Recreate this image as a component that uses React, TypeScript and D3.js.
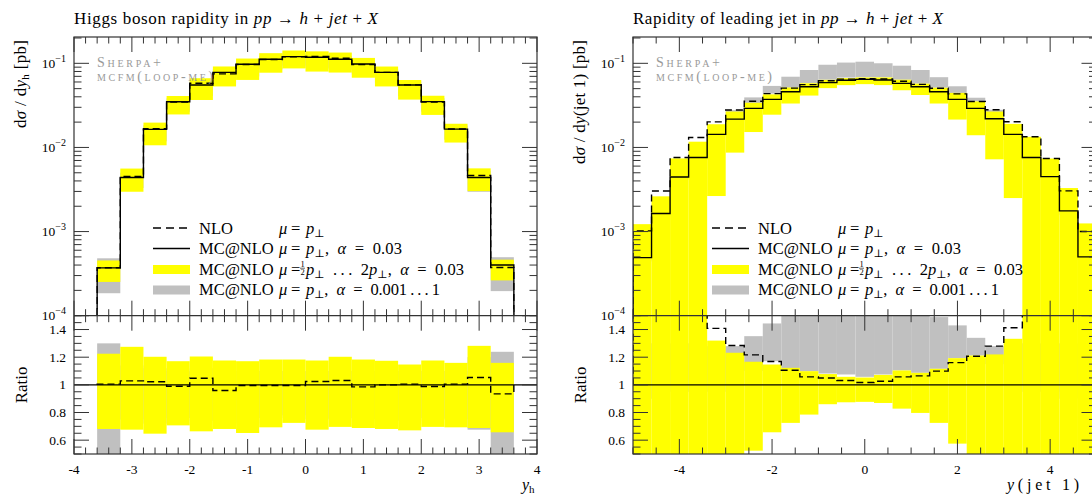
import React from 'react';
import * as d3 from 'd3';

// ---- Higgs boson rapidity (left panel), 0.4 wide bins ----
const higgsEdges = [-3.6, -3.2, -2.8, -2.4, -2.0, -1.6, -1.2, -0.8, -0.4, 0, 0.4, 0.8, 1.2, 1.6, 2.0, 2.4, 2.8, 3.2, 3.6];
// MC@NLO mu=pT, alpha=0.03 [pb]
const higgsMcnlo = [3.7e-4, 4.4e-3, 0.0164, 0.0349, 0.0552, 0.078, 0.0973, 0.1116, 0.12, 0.118, 0.1116, 0.098, 0.078, 0.0552, 0.035, 0.0165, 4.4e-3, 4.0e-4];
// NLO / MC@NLO
const higgsNloRatio = [1.005, 1.029, 1.022, 0.99, 1.048, 0.959, 0.995, 0.995, 0.995, 1.024, 1.031, 0.985, 1.0, 1.005, 0.988, 1.005, 1.053, 0.935];
// scale variation band (ratio to MC@NLO)
const higgsScaleHi = [1.225, 1.275, 1.203, 1.171, 1.205, 1.176, 1.171, 1.183, 1.183, 1.176, 1.203, 1.183, 1.174, 1.147, 1.176, 1.159, 1.282, 1.159];
const higgsScaleLo = [0.681, 0.676, 0.647, 0.707, 0.664, 0.681, 0.652, 0.693, 0.725, 0.676, 0.696, 0.688, 0.681, 0.671, 0.696, 0.693, 0.688, 0.657];
// alpha variation band (ratio to MC@NLO)
const higgsAlphaHi = [1.3, 1.14, 1.12, 1.1, 1.12, 1.1, 1.1, 1.1, 1.1, 1.1, 1.1, 1.1, 1.1, 1.1, 1.1, 1.1, 1.2, 1.239];
const higgsAlphaLo = [0.5, 0.75, 0.72, 0.76, 0.74, 0.75, 0.72, 0.76, 0.78, 0.75, 0.76, 0.75, 0.75, 0.74, 0.76, 0.75, 0.676, 0.49];

// ---- leading jet rapidity (right panel) ----
const jetEdges = [-5.0, -4.6, -4.2, -3.8, -3.4, -3.0, -2.6, -2.2, -1.8, -1.4, -1.0, -0.6, -0.2, 0.2, 0.6, 1.0, 1.4, 1.8, 2.2, 2.6, 3.0, 3.4, 3.8, 4.2, 4.6, 5.0];
const jetMcnlo = [4.9e-4, 1.64e-3, 4.46e-3, 7.6e-3, 0.0143, 0.0217, 0.0291, 0.0373, 0.0459, 0.0527, 0.059, 0.063, 0.0645, 0.0634, 0.0578, 0.0527, 0.0459, 0.0373, 0.0291, 0.0219, 0.0143, 7.6e-3, 4.5e-3, 1.76e-3, 5.0e-4];
const jetNloRatio = [2.08, 1.85, 1.7, 1.73, 1.408, 1.285, 1.217, 1.169, 1.106, 1.058, 1.05, 1.031, 1.017, 1.026, 1.058, 1.065, 1.099, 1.161, 1.207, 1.28, 1.413, 1.76, 1.64, 1.73, 2.0];
const jetScaleHi = [2.5, 1.6, 1.66, 1.54, 1.32, 1.232, 1.167, 1.147, 1.123, 1.099, 1.078, 1.058, 1.053, 1.072, 1.104, 1.087, 1.116, 1.193, 1.212, 1.22, 1.333, 1.76, 1.64, 1.87, 2.5];
const jetScaleLo = [0.01, 0.01, 0.01, 0.01, 0.185, 0.4, 0.524, 0.657, 0.725, 0.785, 0.86, 0.874, 0.877, 0.869, 0.828, 0.797, 0.725, 0.575, 0.48, 0.33, 0.175, 0.01, 0.01, 0.01, 0.01];
const jetAlphaHi = [1.3, 1.3, 1.3, 1.3, 1.28, 1.28, 1.352, 1.444, 1.51, 1.58, 1.63, 1.62, 1.62, 1.58, 1.62, 1.58, 1.49, 1.43, 1.34, 1.28, 1.3, 1.3, 1.3, 1.3, 1.3];
const jetAlphaLo = [0.9, 0.9, 0.95, 0.95, 0.95, 1.0, 1.1, 1.171, 1.116, 1.099, 1.082, 1.075, 1.058, 1.075, 1.104, 1.087, 1.116, 1.193, 1.212, 1.15, 1.0, 0.95, 0.95, 0.9, 0.9];

// ---- axis ticks ----
const higgsXTicks = [-4, -3, -2, -1, 0, 1, 2, 3, 4];
const higgsXTickLabels = ['-4', '-3', '-2', '-1', '0', '1', '2', '3', '4'];
const jetXTicks = [-4, -2, 0, 2, 4];
const jetXTickLabels = ['-4', '-2', '0', '2', '4'];
const logTicks = [1e-4, 1e-3, 1e-2, 1e-1];
const logTickExp = ['\u22124', '\u22123', '\u22122', '\u22121'];
const ratioTicks = [0.6, 0.8, 1, 1.2, 1.4];
const ratioTickLabels = ['0.6', '0.8', '1', '1.2', '1.4'];

const TOP = 37;
const MAIN_BOTTOM = 315.7;
const RATIO_BOTTOM = 454;
const FONT = '"Liberation Serif", "DejaVu Serif", serif';
const SP = '\u2002'; // wider math spacing

const yMain = d3.scaleLog().domain([1e-4, 0.2055]).range([MAIN_BOTTOM, TOP]);
const yRatio = d3.scaleLinear().domain([0.5, 1.5]).range([RATIO_BOTTOM, MAIN_BOTTOM]);

const logMinor: number[] = [];
[-4, -3, -2, -1].forEach(e => {
  for (let k = 2; k <= 9; k++) {
    const v = k * Math.pow(10, e);
    if (v <= 0.2055) logMinor.push(v);
  }
});

const stepPoints = (edges: number[], vals: number[], base: number): [number, number][] => {
  const pts: [number, number][] = [[edges[0], base]];
  vals.forEach((v, i) => {
    pts.push([edges[i], v]);
    pts.push([edges[i + 1], v]);
  });
  pts.push([edges[edges.length - 1], base]);
  return pts;
};

const I = ({ children }: { children: React.ReactNode }) => <tspan fontStyle="italic">{children}</tspan>;

// subscript followed by text back on the baseline
const Sub = ({ s, after }: { s: string; after?: string }) => (
  <>
    <tspan fontSize={11} dy={3}>{s}</tspan>
    {after ? <tspan dy={-3}>{after}</tspan> : null}
  </>
);

const Legend = ({ left }: { left: number }) => {
  const sx0 = left + 79;
  const sx1 = left + 116;
  const tx = left + 125;
  const mu = left + 205;   // μ
  const eq = left + 217;   // =
  const rx = left + 232;   // right-hand side
  const rows = [233.5, 254, 274.5, 295];
  return (
    <g fontFamily={FONT} fontSize={16.5}>
      <line x1={sx0} x2={sx1} y1={rows[0] - 5.5} y2={rows[0] - 5.5} stroke="#000" strokeWidth={1.5} strokeDasharray="8,5" />
      <line x1={sx0} x2={sx1} y1={rows[1] - 5.5} y2={rows[1] - 5.5} stroke="#000" strokeWidth={1.5} />
      <rect x={sx0} y={rows[2] - 9.5} width={sx1 - sx0} height={9} fill="#ffff00" />
      <rect x={sx0} y={rows[3] - 9.5} width={sx1 - sx0} height={9} fill="#c0c0c0" />
      <text x={tx} y={rows[0]}>NLO</text>
      {[1, 2, 3].map(i => <text key={i} x={tx} y={rows[i]}>MC@NLO</text>)}
      {rows.map((r, i) => (
        <g key={i}>
          <text x={mu} y={r} fontStyle="italic">μ</text>
          <text x={eq} y={r}>=</text>
        </g>
      ))}
      <text x={rx} y={rows[0]}><I>p</I><Sub s="⊥" /></text>
      <text x={rx} y={rows[1]} textLength={96} lengthAdjust="spacing">
        <I>p</I><Sub s="⊥" after={`,${SP}`} /><I>α</I>{`${SP}=${SP}0.03`}
      </text>
      <text x={rx - 3.5} y={rows[2] - 7.5} fontSize={8.5} textAnchor="middle">1</text>
      <line x1={rx - 6} x2={rx - 1} y1={rows[2] - 6.3} y2={rows[2] - 6.3} stroke="#000" strokeWidth={0.6} />
      <text x={rx - 3.5} y={rows[2] + 0.5} fontSize={8.5} textAnchor="middle">2</text>
      <text x={rx} y={rows[2]} textLength={158} lengthAdjust="spacing">
        <I>p</I><Sub s="⊥" after={`${SP}.\u2009.\u2009.${SP}2`} /><I>p</I><Sub s="⊥" after={`,${SP}`} /><I>α</I>{`${SP}=${SP}0.03`}
      </text>
      <text x={rx} y={rows[3]} textLength={134} lengthAdjust="spacing">
        <I>p</I><Sub s="⊥" after={`,${SP}`} /><I>α</I>{`${SP}=${SP}0.001\u2009.\u2009.\u2009.\u20091`}
      </text>
    </g>
  );
};

type PanelProps = {
  id: string;
  left: number;
  right: number;
  xDomain: [number, number];
  edges: number[];
  mc: number[];
  nloRatio: number[];
  scaleHi: number[];
  scaleLo: number[];
  alphaHi: number[];
  alphaLo: number[];
  xTicks: number[];
  xTickLabels: string[];
  xMinorStep: number;
  title: React.ReactNode;
  titleWidth: number;
  yLabel: React.ReactNode;
  yLabelWidth: number;
  xLabel: React.ReactNode;
  xLabelX: number;
  xLabelWidth?: number;
};

const Panel = (p: PanelProps) => {
  const x = d3.scaleLinear().domain(p.xDomain).range([p.left, p.right]);
  const nlo = p.mc.map((v, i) => v * p.nloRatio[i]);
  const mainLine = d3.line<[number, number]>().x(d => x(d[0])).y(d => yMain(Math.max(d[1], 1e-7)));
  const ratioLine = d3.line<[number, number]>().x(d => x(d[0])).y(d => yRatio(d[1]));

  const xMinor = d3.range(p.xDomain[0], p.xDomain[1] + 1e-9, p.xMinorStep)
    .filter(v => !p.xTicks.some(t => Math.abs(t - v) < 1e-6));
  const ratioMinor = d3.range(0.5, 1.5001, 0.05)
    .filter(v => !ratioTicks.some(t => Math.abs(t - v) < 1e-6));

  const ticks: { x1: number; y1: number; x2: number; y2: number }[] = [];
  const addX = (vals: number[], len: number) => vals.forEach(v => {
    const xx = x(v);
    ticks.push({ x1: xx, x2: xx, y1: TOP, y2: TOP + len });
    ticks.push({ x1: xx, x2: xx, y1: MAIN_BOTTOM, y2: MAIN_BOTTOM - len });
    ticks.push({ x1: xx, x2: xx, y1: MAIN_BOTTOM, y2: MAIN_BOTTOM + len });
    ticks.push({ x1: xx, x2: xx, y1: RATIO_BOTTOM, y2: RATIO_BOTTOM - len });
  });
  addX(p.xTicks, 15);
  addX(xMinor, 6.5);
  const addY = (ys: number[], len: number) => ys.forEach(yy => {
    ticks.push({ x1: p.left, x2: p.left + len, y1: yy, y2: yy });
    ticks.push({ x1: p.right, x2: p.right - len, y1: yy, y2: yy });
  });
  addY(logTicks.map(v => yMain(v)), 15);
  addY(logMinor.map(v => yMain(v)), 7.5);
  addY(ratioTicks.map(v => yRatio(v)), 15);
  addY(ratioMinor.map(v => yRatio(v)), 7.5);

  const bins = p.mc.map((v, i) => ({ x0: x(p.edges[i]), x1: x(p.edges[i + 1]), i }));

  return (
    <g>
      <defs>
        <clipPath id={`main-${p.id}`}>
          <rect x={p.left} y={TOP} width={p.right - p.left} height={MAIN_BOTTOM - TOP} />
        </clipPath>
        <clipPath id={`ratio-${p.id}`}>
          <rect x={p.left} y={MAIN_BOTTOM} width={p.right - p.left} height={RATIO_BOTTOM - MAIN_BOTTOM} />
        </clipPath>
      </defs>

      {/* main panel */}
      <g clipPath={`url(#main-${p.id})`}>
        {bins.map(b => {
          const hi = yMain(p.mc[b.i] * p.alphaHi[b.i]);
          const lo = yMain(p.mc[b.i] * p.alphaLo[b.i]);
          return <rect key={`ga${b.i}`} x={b.x0} width={b.x1 - b.x0} y={hi} height={lo - hi} fill="#c0c0c0" />;
        })}
        {bins.map(b => {
          const hi = yMain(p.mc[b.i] * p.scaleHi[b.i]);
          const lo = yMain(p.mc[b.i] * p.scaleLo[b.i]);
          return <rect key={`ya${b.i}`} x={b.x0} width={b.x1 - b.x0} y={hi} height={lo - hi} fill="#ffff00" />;
        })}
        <path d={mainLine(stepPoints(p.edges, nlo, 1e-7)) || ''} fill="none" stroke="#000" strokeWidth={1.4} strokeDasharray="7,4" />
        <path d={mainLine(stepPoints(p.edges, p.mc, 1e-7)) || ''} fill="none" stroke="#000" strokeWidth={1.4} />
      </g>

      {/* ratio panel */}
      <g clipPath={`url(#ratio-${p.id})`}>
        {bins.map(b => {
          const hi = yRatio(p.alphaHi[b.i]);
          const lo = yRatio(p.alphaLo[b.i]);
          return <rect key={`gr${b.i}`} x={b.x0} width={b.x1 - b.x0} y={hi} height={lo - hi} fill="#c0c0c0" />;
        })}
        {bins.map(b => {
          const hi = yRatio(p.scaleHi[b.i]);
          const lo = yRatio(p.scaleLo[b.i]);
          return <rect key={`yr${b.i}`} x={b.x0} width={b.x1 - b.x0} y={hi} height={lo - hi} fill="#ffff00" />;
        })}
        <line x1={p.left} x2={p.right} y1={yRatio(1)} y2={yRatio(1)} stroke="#000" strokeWidth={1.3} />
        <path d={ratioLine(stepPoints(p.edges, p.nloRatio, 1)) || ''} fill="none" stroke="#000" strokeWidth={1.4} strokeDasharray="7,4" />
      </g>

      {/* frame and ticks */}
      <rect x={p.left} y={TOP} width={p.right - p.left} height={RATIO_BOTTOM - TOP} fill="none" stroke="#333" strokeWidth={1.2} />
      <line x1={p.left} x2={p.right} y1={MAIN_BOTTOM} y2={MAIN_BOTTOM} stroke="#333" strokeWidth={1.2} />
      {ticks.map((t, i) => <line key={i} {...t} stroke="#333" strokeWidth={1} />)}

      {/* tick labels */}
      <g fontFamily={FONT} fontSize={13.5}>
        {p.xTicks.map((t, i) => (
          <text key={t} x={x(t)} y={474} textAnchor="middle">{p.xTickLabels[i]}</text>
        ))}
        {logTicks.map((t, i) => (
          <text key={t} x={p.left - 8} y={yMain(t) + 4.5} textAnchor="end">10<tspan fontSize={10} dy={-6}>{logTickExp[i]}</tspan></text>
        ))}
        {ratioTicks.map((t, i) => (
          <text key={t} x={p.left - 8} y={yRatio(t) + 4.5} textAnchor="end">{ratioTickLabels[i]}</text>
        ))}
      </g>

      <g fill="#9a9a9a" fontFamily={FONT} fontSize={14} style={{ fontVariant: 'small-caps' }}>
        <text x={p.left + 23} y={66.5} textLength={64} lengthAdjust="spacing">Sherpa+</text>
        <text x={p.left + 23} y={80.5} textLength={116} lengthAdjust="spacing">mcfm(loop-me)</text>
      </g>

      <Legend left={p.left} />

      <g fontFamily={FONT} fontSize={17}>
        <text x={p.left} y={24} textLength={p.titleWidth} lengthAdjust="spacing">{p.title}</text>
        <text transform={`translate(${p.left - 48},40) rotate(-90)`} textAnchor="end" textLength={p.yLabelWidth} lengthAdjust="spacing">{p.yLabel}</text>
        <text transform={`translate(${p.left - 47},${yRatio(1)}) rotate(-90)`} textAnchor="middle">Ratio</text>
        <text x={p.xLabelX} y={490} fontSize={16} textLength={p.xLabelWidth} lengthAdjust="spacing">{p.xLabel}</text>
      </g>
    </g>
  );
};

const processText = (
  <>
    <I>pp</I> → <I>h</I> + <I>jet</I> + <I>X</I>
  </>
);

export default function App() {
  return (
    <svg width={1092} height={495} style={{ position: 'fixed', left: 0, top: 0, background: '#fff' }}>
      <Panel
        id="higgs"
        left={74}
        right={537}
        xDomain={[-4, 4]}
        edges={higgsEdges}
        mc={higgsMcnlo}
        nloRatio={higgsNloRatio}
        scaleHi={higgsScaleHi}
        scaleLo={higgsScaleLo}
        alphaHi={higgsAlphaHi}
        alphaLo={higgsAlphaLo}
        xTicks={higgsXTicks}
        xTickLabels={higgsXTickLabels}
        xMinorStep={0.2}
        title={<>Higgs boson rapidity in {processText}</>}
        titleWidth={304}
        yLabel={<>d<I>σ</I> / d<I>y</I><Sub s="h" after=" [pb]" /></>}
        yLabelWidth={88}
        xLabel={<><I>y</I><Sub s="h" /></>}
        xLabelX={522}
      />
      <Panel
        id="jet"
        left={633}
        right={1096.5}
        xDomain={[-5, 5]}
        edges={jetEdges}
        mc={jetMcnlo}
        nloRatio={jetNloRatio}
        scaleHi={jetScaleHi}
        scaleLo={jetScaleLo}
        alphaHi={jetAlphaHi}
        alphaLo={jetAlphaLo}
        xTicks={jetXTicks}
        xTickLabels={jetXTickLabels}
        xMinorStep={0.5}
        title={<>Rapidity of leading jet in {processText}</>}
        titleWidth={310}
        yLabel={<>d<I>σ</I> / d<I>y</I>(jet 1) [pb]</>}
        yLabelWidth={124}
        xLabel={<><I>y</I>(jet 1)</>}
        xLabelX={1007}
        xLabelWidth={72}
      />
    </svg>
  );
}
